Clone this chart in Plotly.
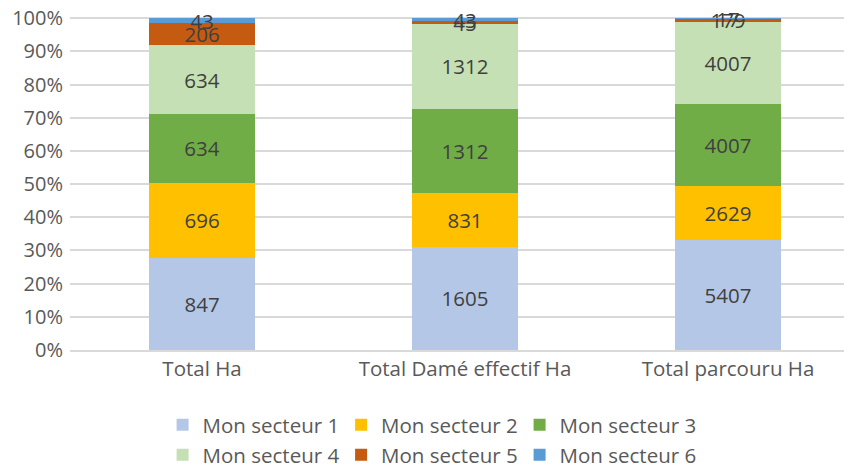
import plotly.graph_objects as go

categories = ["Total Ha", "Total Damé effectif Ha", "Total parcouru Ha"]
series_names = ["Mon secteur 1", "Mon secteur 2", "Mon secteur 3",
                "Mon secteur 4", "Mon secteur 5", "Mon secteur 6"]
secteur1 = [847, 1605, 5407]
secteur2 = [696, 831, 2629]
secteur3 = [634, 1312, 4007]
secteur4 = [634, 1312, 4007]
secteur5 = [206, 45, 179]
secteur6 = [43, 43, 17]
colors = ["#B4C7E7", "#FFC000", "#70AD47", "#C5E0B4", "#C55A11", "#5B9BD5"]
tick_vals = [0, 10, 20, 30, 40, 50, 60, 70, 80, 90, 100]
tick_text = ["0%", "10%", "20%", "30%", "40%", "50%", "60%", "70%", "80%", "90%", "100%"]

FONT = "Open Sans"
all_series = [secteur1, secteur2, secteur3, secteur4, secteur5, secteur6]

fig = go.Figure()
for i, (name, vals, col) in enumerate(zip(series_names, all_series, colors)):
    fig.add_trace(go.Bar(
        x=categories, y=vals, name=name, marker_color=col,
        marker_line_width=0,
        text=[str(v) for v in vals], textposition="inside",
        insidetextanchor="middle", textangle=0, constraintext="none",
        textfont=dict(family=FONT, size=20.5, color="#404040"),
        legend="legend" if i < 3 else "legend2",
    ))

# the page body has an 8px default margin, so figure coords = screen - 8
legend_common = dict(orientation="h", xref="container", yref="container",
                     x=0.496, xanchor="center", yanchor="middle",
                     font=dict(family=FONT, size=20.5, color="#595959"),
                     entrywidth=133.5, traceorder="normal", itemclick=False,
                     bgcolor="rgba(0,0,0,0)")

fig.update_layout(
    barmode="stack", barnorm="percent", bargap=0.6,
    width=852, height=468,
    margin=dict(l=62, r=0, t=2, b=126, autoexpand=False),
    paper_bgcolor="white", plot_bgcolor="white",
    font=dict(family=FONT, size=19, color="#595959"),
    legend=dict(legend_common, y=1 - 417 / 468),
    legend2=dict(legend_common, y=1 - 447 / 468),
)
fig.update_yaxes(range=[0, 102.5], tickvals=tick_vals, ticktext=tick_text,
                 showgrid=True, gridcolor="#D9D9D9", gridwidth=1.5,
                 zeroline=False, showline=False, ticks="", ticklen=0,
                 ticklabeloverflow="allow", ticklabelstandoff=6,
                 automargin=False, tickfont=dict(size=20))
fig.update_xaxes(range=[-0.502, 2.502], showline=True, linecolor="#D9D9D9",
                 linewidth=1.5, ticks="", automargin=False,
                 ticklabeloverflow="allow",
                 tickfont=dict(size=20.5))
fig.write_html("out.html")
